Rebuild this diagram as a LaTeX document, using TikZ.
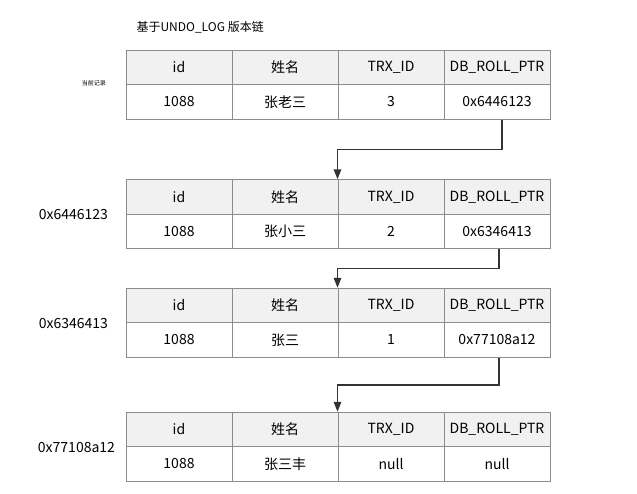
\documentclass[tikz,border=0pt]{standalone}
\usepackage{fontspec}
\setmainfont{Noto Sans CJK SC}
\usetikzlibrary{positioning,calc,arrows.meta}

\definecolor{cellline}{HTML}{8C8C8C}
\definecolor{headfill}{HTML}{F1F1F1}
\definecolor{linkline}{HTML}{333333}

\begin{document}
\begin{tikzpicture}[x=1pt, y=-1pt,
    cell/.style={draw=cellline, line width=1pt, fill=white, minimum width=106pt, minimum height=34.5pt, inner sep=0pt, font=\fontsize{14}{16}\selectfont},
    head/.style={cell, fill=headfill},
    link/.style={-{Triangle[width=7.5pt, length=10pt]}, draw=linkline, line width=1.7pt},
    addr/.style={font=\fontsize{14}{16}\selectfont}]
    \useasboundingbox (0,0) rectangle (637,493);

    \node[anchor=west, font=\fontsize{12}{14}\selectfont] (title) at (133, 27) {基于UNDO\_LOG 版本链};

    % current record
    \node[head] (h1id)  at (179, 67.5)   {id};
    \node[head] (h1nm)  at (285, 67.5)   {姓名};
    \node[head] (h1trx) at (391, 67.5)   {TRX\_ID};
    \node[head] (h1ptr) at (497, 67.5)   {DB\_ROLL\_PTR};
    \node[cell] (r1id)  at (179, 102)    {1088};
    \node[cell] (r1nm)  at (285, 102)    {张老三};
    \node[cell] (r1trx) at (391, 102)    {3};
    \node[cell] (r1ptr) at (497, 102)    {0x6446123};
    \node[font=\fontsize{6}{7}\selectfont, left=16pt of h1id.south west, yshift=2pt] (now) {当前记录};

    % undo log 1
    \node[head] (h2id)  at (179, 197)    {id};
    \node[head] (h2nm)  at (285, 197)    {姓名};
    \node[head] (h2trx) at (391, 197)    {TRX\_ID};
    \node[head] (h2ptr) at (497, 197)    {DB\_ROLL\_PTR};
    \node[cell] (r2id)  at (179, 231.5)  {1088};
    \node[cell] (r2nm)  at (285, 231.5)  {张小三};
    \node[cell] (r2trx) at (391, 231.5)  {2};
    \node[cell] (r2ptr) at (497, 231.5)  {0x6346413};
    \node[addr, left=14pt of h2id.south west] (a2) {0x6446123};

    % undo log 2
    \node[head] (h3id)  at (179, 305.5)  {id};
    \node[head] (h3nm)  at (285, 305.5)  {姓名};
    \node[head] (h3trx) at (391, 305.5)  {TRX\_ID};
    \node[head] (h3ptr) at (497, 305.5)  {DB\_ROLL\_PTR};
    \node[cell] (r3id)  at (179, 340)    {1088};
    \node[cell] (r3nm)  at (285, 340)    {张三};
    \node[cell] (r3trx) at (391, 340)    {1};
    \node[cell] (r3ptr) at (497, 340)    {0x77108a12};
    \node[addr, left=14pt of h3id.south west] (a3) {0x6346413};

    % undo log 3
    \node[head] (h4id)  at (179, 429.5)  {id};
    \node[head] (h4nm)  at (285, 429.5)  {姓名};
    \node[head] (h4trx) at (391, 429.5)  {TRX\_ID};
    \node[head] (h4ptr) at (497, 429.5)  {DB\_ROLL\_PTR};
    \node[cell] (r4id)  at (179, 464)    {1088};
    \node[cell] (r4nm)  at (285, 464)    {张三丰};
    \node[cell] (r4trx) at (391, 464)    {null};
    \node[cell] (r4ptr) at (497, 464)    {null};
    \node[addr, left=7pt of h4id.south west] (a4) {0x77108a12};

    \coordinate (p1) at ([xshift=5pt]r1ptr.south);
    \coordinate (p2) at ([xshift=2pt]r2ptr.south);
    \coordinate (p3) at ([xshift=2pt]r3ptr.south);
    \coordinate (k1) at ($(p1)!0.5!(p1 |- h2ptr.north)$);
    \coordinate (k2) at ($(p2)!0.5!(p2 |- h3ptr.north)$);
    \coordinate (k3) at ($(p3)!0.5!(p3 |- h4ptr.north)$);

    \draw[link] (p1) -- (k1) -| (h2trx.north west);
    \draw[link] (p2) -- (k2) -| (h3trx.north west);
    \draw[link] (p3) -- (k3) -| (h4trx.north west);

\end{tikzpicture}
\end{document}
